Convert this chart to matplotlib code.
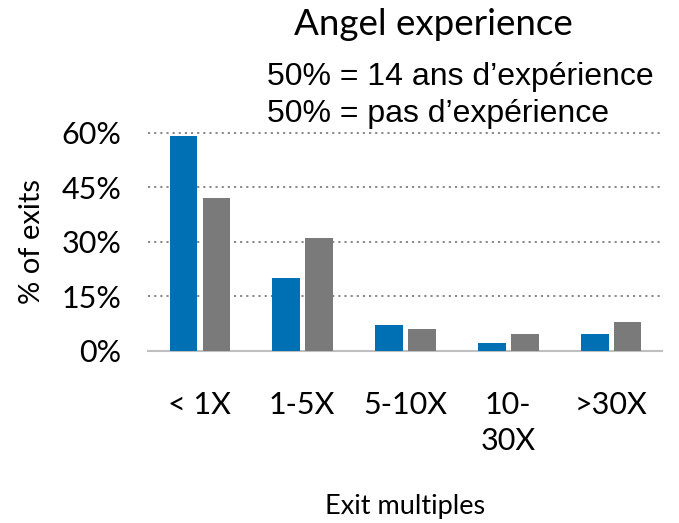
import matplotlib.pyplot as plt
import numpy as np

# Daten
categories = ['< 1X', '1-5X', '5-10X', '10-\n30X', '>30X']
experienced = [0.59, 0.20, 0.07, 0.022, 0.047]
no_experience = [0.42, 0.31, 0.06, 0.047, 0.08]
yticks = [0, 0.15, 0.30, 0.45, 0.60]
ytick_labels = ['0%', '15%', '30%', '45%', '60%']

GEO = 'Lato'
BLUE = '#0070B5'
GRAY = '#7A7A7A'

fig = plt.figure(figsize=(6.79, 5.23), dpi=100)
ax = fig.add_axes([0.218, 0.329, 0.757, 0.417])

x = np.arange(len(categories))
w = 0.27
ax.bar(x - 0.155, experienced, width=w, color=BLUE, zorder=3)
ax.bar(x + 0.165, no_experience, width=w, color=GRAY, zorder=3)

ax.set_xlim(-0.5, len(categories) - 0.5)
ax.set_ylim(0, 0.6)
ax.set_yticks(yticks)
ax.set_yticklabels(ytick_labels, fontsize=22, family=GEO)
ax.set_xticks(x)
ax.set_xticklabels(categories, fontsize=22, family=GEO, linespacing=1.35)
ax.tick_params(axis='both', length=0)
ax.tick_params(axis='y', pad=19)
ax.tick_params(axis='x', pad=29)

# Gitter
for v in yticks[1:]:
    ax.axhline(v, color='#808080', linestyle=(0, (1.2, 2.2)), linewidth=1.3,
               zorder=1, clip_on=False)

for s in ['top', 'right', 'left']:
    ax.spines[s].set_visible(False)
ax.spines['bottom'].set_color('#BFBFBF')
ax.spines['bottom'].set_linewidth(1.5)

ax.set_xlabel('Exit multiples', fontsize=19.5, family=GEO, labelpad=28)
ax.set_ylabel('% of exits', fontsize=21, family=GEO, labelpad=12)

fig.text(0.638, 0.933, 'Angel experience', fontsize=26.5, family=GEO,
         ha='center', va='baseline')
fig.text(0.393, 0.8375, '50% = 14 ans d\u2019exp\u00e9rience', fontsize=23,
         family='Liberation Sans', ha='left', va='baseline')
fig.text(0.393, 0.7667, '50% = pas d\u2019exp\u00e9rience', fontsize=23,
         family='Liberation Sans', ha='left', va='baseline')

fig.savefig('out.png', dpi=100)
